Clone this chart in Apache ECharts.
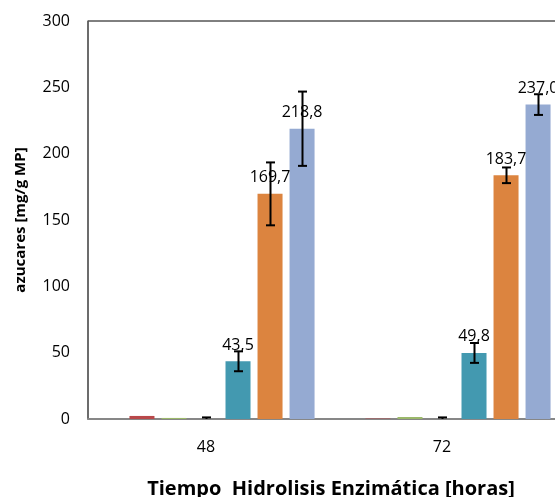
<!DOCTYPE html>
<html>
<head>
<meta charset="utf-8">
<script src="https://cdn.jsdelivr.net/npm/echarts@6/dist/echarts.min.js"></script>
<style>
  html, body { margin: 0; padding: 0; background: #fff; }
  #chart { width: 555px; height: 497px; }
</style>
</head>
<body>
<div id="chart"></div>
<script>
// Sugar yield per enzymatic hydrolysis time
const categories = ['48', '72'];
const seriesNames = ['S1', 'S2', 'S3', 'S4', 'S5', 'S6', 'S7'];
const s1Values = [0, 0];
const s2Values = [2.3, 0.3];
const s3Values = [0.8, 1.5];
const s4Values = [0, 0];
const s5Values = [43.5, 49.8];
const s6Values = [169.7, 183.7];
const s7Values = [218.8, 237.0];
// standard deviations (error bar half-lengths)
const s4Errors = [1.2, 1.2];
const s5Errors = [7.5, 7.5];
const s6Errors = [23.7, 5.9];
const s7Errors = [28.0, 7.8];
const yTicks = [0, 50, 100, 150, 200, 250, 300];

const seriesValues = [s1Values, s2Values, s3Values, s4Values, s5Values, s6Values, s7Values];
const seriesErrors = [null, null, null, s4Errors, s5Errors, s6Errors, s7Errors];
const colors = ['#4F81BD', '#B9484A', '#9BB86A', '#8064A2', '#4399B0', '#DC843F', '#95AAD2'];
const labelled = [false, false, false, false, true, true, true];

const CAT_GAP = 0.08;
const BAR_GAP = 0.28;
const N = seriesValues.length;

const fmt = v => v.toFixed(1).replace('.', ',');
const FONT = '"Open Sans", "Noto Sans", sans-serif';

const series = [];
seriesValues.forEach((vals, i) => {
  series.push({
    name: seriesNames[i],
    type: 'bar',
    data: vals,
    barCategoryGap: (CAT_GAP * 100) + '%',
    barGap: (BAR_GAP * 100) + '%',
    itemStyle: { color: colors[i] },
    label: {
      show: labelled[i],
      position: 'top',
      distance: 8,
      formatter: p => fmt(p.value),
      color: '#000',
      fontFamily: FONT,
      fontSize: 16
    },
    z: 2
  });
});

// error bars, drawn at each bar's centre
seriesErrors.forEach((errs, i) => {
  if (!errs) return;
  const vals = seriesValues[i];
  series.push({
    type: 'custom',
    name: seriesNames[i] + '_err',
    clip: true,
    z: 5,
    data: vals.map((v, k) => [k, v - errs[k], v + errs[k]]),
    renderItem: (params, api) => {
      const k = api.value(0);
      const band = api.size([1, 0])[0];
      const usable = band * (1 - CAT_GAP);
      const bw = usable / (N + (N - 1) * BAR_GAP);
      const step = bw * (1 + BAR_GAP);
      const dx = (i - (N - 1) / 2) * step;
      const lo = api.coord([k, api.value(1)]);
      const hi = api.coord([k, api.value(2)]);
      const x = Math.round(lo[0] + dx) + 0.5;
      const half = 4.5;
      const st = { stroke: '#000', lineWidth: 2 };
      return {
        type: 'group',
        children: [
          { type: 'line', shape: { x1: x, y1: lo[1], x2: x, y2: hi[1] }, style: st },
          { type: 'line', shape: { x1: x - half, y1: lo[1], x2: x + half, y2: lo[1] }, style: st },
          { type: 'line', shape: { x1: x - half, y1: hi[1], x2: x + half, y2: hi[1] }, style: st }
        ]
      };
    }
  });
});

const chart = echarts.init(document.getElementById('chart'), null, { renderer: 'canvas' });
chart.setOption({
  animation: false,
  backgroundColor: '#fff',
  grid: {
    left: 88, top: 21, width: 472, height: 398,
    containLabel: false,
    outerBoundsMode: 'none',
    show: true, borderColor: '#000', borderWidth: 1, backgroundColor: 'transparent'
  },
  xAxis: {
    type: 'category',
    data: categories,
    name: 'Tiempo  Hidrolisis Enzimática [horas]',
    nameLocation: 'middle',
    nameGap: 60,
    nameTextStyle: { fontFamily: FONT, fontWeight: 'bold', fontSize: 20, color: '#000', padding: [0, 0, 0, 14] },
    axisLine: { lineStyle: { color: '#878787', width: 2 } },
    axisTick: { show: false },
    axisLabel: { margin: 20, fontFamily: FONT, fontSize: 16, color: '#000' }
  },
  yAxis: {
    type: 'value',
    min: yTicks[0],
    max: yTicks[yTicks.length - 1],
    interval: yTicks[1] - yTicks[0],
    name: 'azucares [mg/g MP]',
    nameLocation: 'middle',
    nameGap: 60,
    nameTextStyle: { fontFamily: FONT, fontWeight: 'bold', fontSize: 15, color: '#000' },
    axisLine: { show: true, lineStyle: { color: '#666', width: 1.5 } },
    axisTick: { show: false },
    splitLine: { show: false },
    axisLabel: { margin: 18, fontFamily: FONT, fontSize: 16, color: '#000' }
  },
  series: series
});
</script>
</body>
</html>
